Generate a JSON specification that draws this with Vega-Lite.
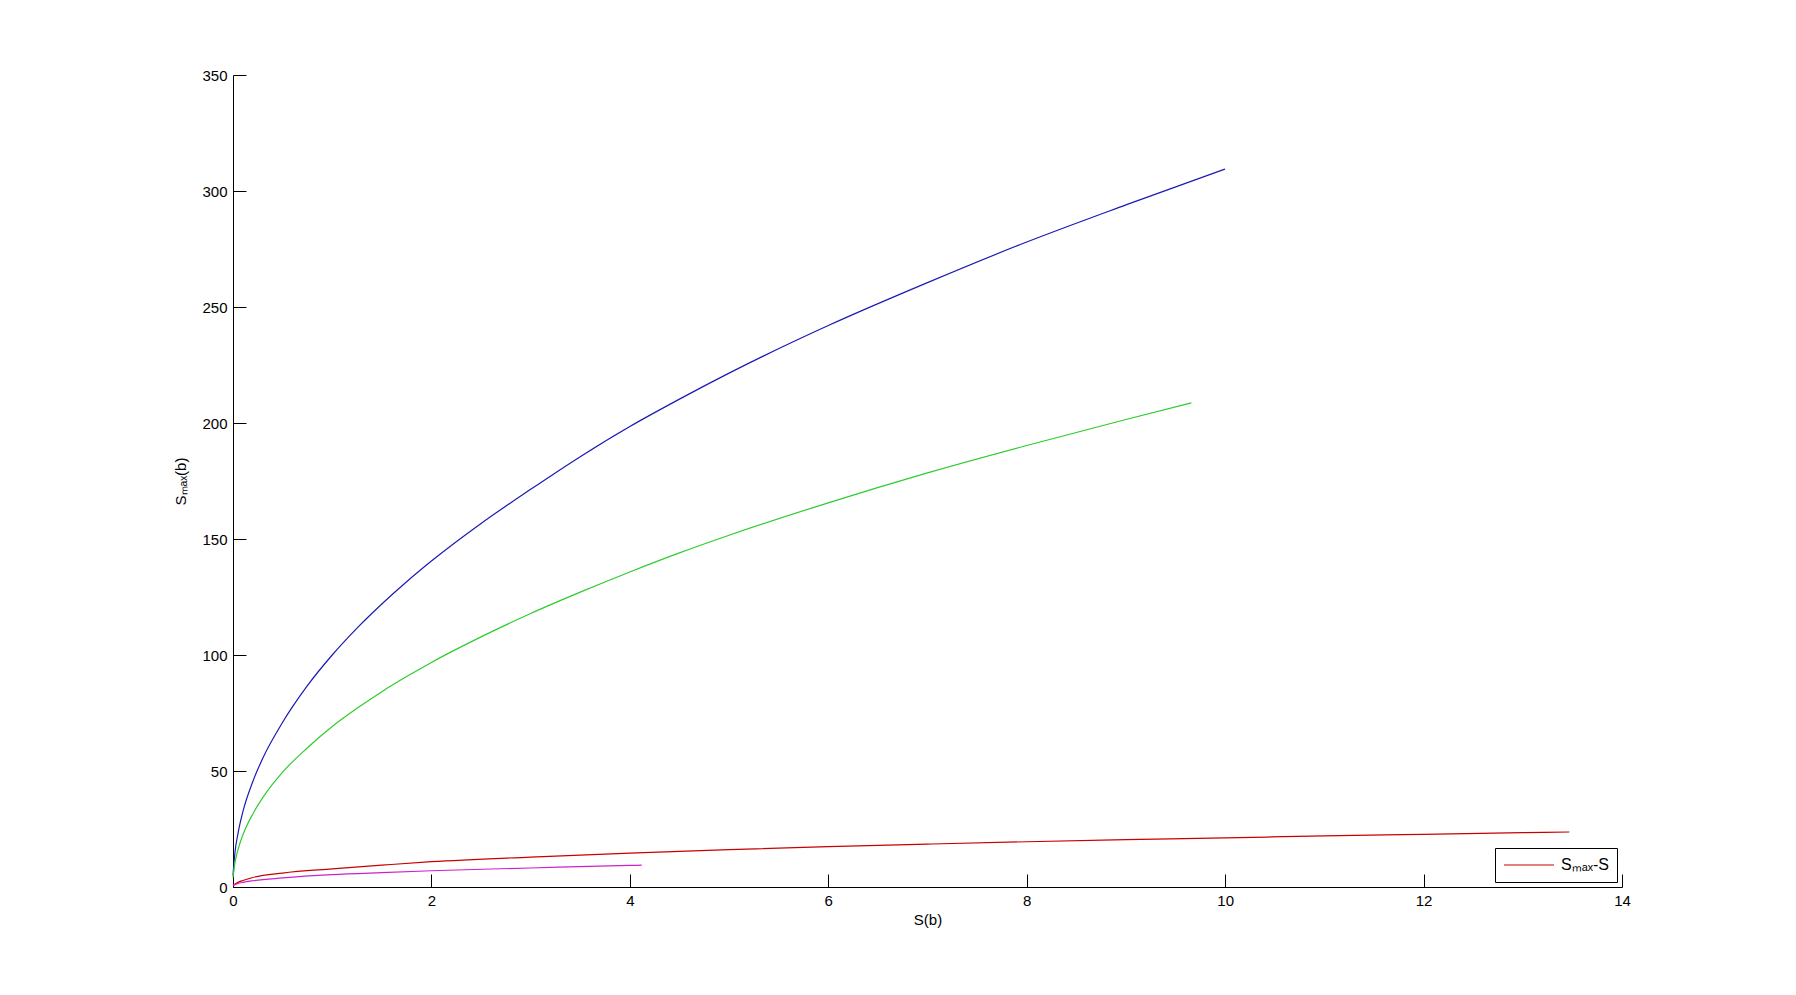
{
  "$schema": "https://vega.github.io/schema/vega-lite/v6.json",
  "autosize": "none",
  "width": 1389,
  "height": 812,
  "padding": {"left": 233, "top": 75, "right": 174, "bottom": 108},
  "background": "white",
  "config": {
    "view": {"stroke": null},
    "font": "Liberation Sans",
    "axis": {
      "grid": false,
      "domainColor": "black",
      "domainWidth": 1,
      "tickColor": "black",
      "tickWidth": 1,
      "tickSize": -13,
      "labelFont": "Liberation Sans",
      "labelFontSize": 15,
      "labelColor": "black",
      "titleFont": "Liberation Sans",
      "titleFontSize": 15,
      "titleFontWeight": "normal",
      "titleColor": "black"
    }
  },
  "data": {
    "values": [
      {"S": 0, "Smax": 5, "series": "curve 1"},
      {"S": 0.02, "Smax": 15, "series": "curve 1"},
      {"S": 0.05, "Smax": 23, "series": "curve 1"},
      {"S": 0.1, "Smax": 32.5, "series": "curve 1"},
      {"S": 0.2, "Smax": 45.5, "series": "curve 1"},
      {"S": 0.3, "Smax": 55.5, "series": "curve 1"},
      {"S": 0.5, "Smax": 71, "series": "curve 1"},
      {"S": 0.75, "Smax": 86.8, "series": "curve 1"},
      {"S": 1, "Smax": 100, "series": "curve 1"},
      {"S": 1.25, "Smax": 111.6, "series": "curve 1"},
      {"S": 1.5, "Smax": 122, "series": "curve 1"},
      {"S": 1.75, "Smax": 131.6, "series": "curve 1"},
      {"S": 2, "Smax": 140.5, "series": "curve 1"},
      {"S": 2.5, "Smax": 156.7, "series": "curve 1"},
      {"S": 3, "Smax": 171.4, "series": "curve 1"},
      {"S": 3.5, "Smax": 185.5, "series": "curve 1"},
      {"S": 4, "Smax": 198.5, "series": "curve 1"},
      {"S": 4.5, "Smax": 210.3, "series": "curve 1"},
      {"S": 5, "Smax": 221.5, "series": "curve 1"},
      {"S": 6, "Smax": 242, "series": "curve 1"},
      {"S": 7, "Smax": 260.5, "series": "curve 1"},
      {"S": 8, "Smax": 278, "series": "curve 1"},
      {"S": 9, "Smax": 294, "series": "curve 1"},
      {"S": 10, "Smax": 309.5, "series": "curve 1"},
      {"S": 0, "Smax": 4, "series": "curve 2"},
      {"S": 0.02, "Smax": 10.5, "series": "curve 2"},
      {"S": 0.05, "Smax": 16, "series": "curve 2"},
      {"S": 0.1, "Smax": 22.5, "series": "curve 2"},
      {"S": 0.2, "Smax": 31.5, "series": "curve 2"},
      {"S": 0.3, "Smax": 38.5, "series": "curve 2"},
      {"S": 0.5, "Smax": 49.5, "series": "curve 2"},
      {"S": 0.75, "Smax": 60, "series": "curve 2"},
      {"S": 1, "Smax": 69.2, "series": "curve 2"},
      {"S": 1.25, "Smax": 77, "series": "curve 2"},
      {"S": 1.5, "Smax": 84.2, "series": "curve 2"},
      {"S": 1.75, "Smax": 90.7, "series": "curve 2"},
      {"S": 2, "Smax": 96.8, "series": "curve 2"},
      {"S": 2.5, "Smax": 107.8, "series": "curve 2"},
      {"S": 3, "Smax": 117.9, "series": "curve 2"},
      {"S": 3.5, "Smax": 127.1, "series": "curve 2"},
      {"S": 4, "Smax": 135.8, "series": "curve 2"},
      {"S": 4.5, "Smax": 144, "series": "curve 2"},
      {"S": 5, "Smax": 151.6, "series": "curve 2"},
      {"S": 6, "Smax": 165.6, "series": "curve 2"},
      {"S": 7, "Smax": 178.5, "series": "curve 2"},
      {"S": 8, "Smax": 190.3, "series": "curve 2"},
      {"S": 9, "Smax": 201.5, "series": "curve 2"},
      {"S": 9.66, "Smax": 208.7, "series": "curve 2"},
      {"S": 0, "Smax": 0.7, "series": "Sₘₐₓ-S"},
      {"S": 0.05, "Smax": 2, "series": "Sₘₐₓ-S"},
      {"S": 0.1, "Smax": 2.8, "series": "Sₘₐₓ-S"},
      {"S": 0.2, "Smax": 4.1, "series": "Sₘₐₓ-S"},
      {"S": 0.5, "Smax": 6, "series": "Sₘₐₓ-S"},
      {"S": 1, "Smax": 7.8, "series": "Sₘₐₓ-S"},
      {"S": 1.5, "Smax": 9.4, "series": "Sₘₐₓ-S"},
      {"S": 2, "Smax": 10.9, "series": "Sₘₐₓ-S"},
      {"S": 3, "Smax": 12.9, "series": "Sₘₐₓ-S"},
      {"S": 4, "Smax": 14.6, "series": "Sₘₐₓ-S"},
      {"S": 5, "Smax": 16.1, "series": "Sₘₐₓ-S"},
      {"S": 6, "Smax": 17.4, "series": "Sₘₐₓ-S"},
      {"S": 7, "Smax": 18.5, "series": "Sₘₐₓ-S"},
      {"S": 8, "Smax": 19.5, "series": "Sₘₐₓ-S"},
      {"S": 9, "Smax": 20.4, "series": "Sₘₐₓ-S"},
      {"S": 10, "Smax": 21.2, "series": "Sₘₐₓ-S"},
      {"S": 11, "Smax": 22, "series": "Sₘₐₓ-S"},
      {"S": 12, "Smax": 22.7, "series": "Sₘₐₓ-S"},
      {"S": 13, "Smax": 23.4, "series": "Sₘₐₓ-S"},
      {"S": 13.47, "Smax": 23.7, "series": "Sₘₐₓ-S"},
      {"S": 0, "Smax": 0.7, "series": "curve 4"},
      {"S": 0.05, "Smax": 1.5, "series": "curve 4"},
      {"S": 0.1, "Smax": 2, "series": "curve 4"},
      {"S": 0.2, "Smax": 2.7, "series": "curve 4"},
      {"S": 0.5, "Smax": 3.9, "series": "curve 4"},
      {"S": 1, "Smax": 5.3, "series": "curve 4"},
      {"S": 1.5, "Smax": 6.2, "series": "curve 4"},
      {"S": 2, "Smax": 7, "series": "curve 4"},
      {"S": 3, "Smax": 8.2, "series": "curve 4"},
      {"S": 4, "Smax": 9.3, "series": "curve 4"},
      {"S": 4.12, "Smax": 9.4, "series": "curve 4"}
    ]
  },
  "mark": {"type": "line", "strokeWidth": 1.2, "interpolate": "monotone"},
  "encoding": {
    "x": {
      "field": "S",
      "type": "quantitative",
      "scale": {"domain": [0, 14], "nice": false, "zero": false},
      "axis": {
        "title": "S(b)",
        "values": [0, 2, 4, 6, 8, 10, 12, 14],
        "labelPadding": 19,
        "titlePadding": 4,
        "labelFlush": false
      }
    },
    "y": {
      "field": "Smax",
      "type": "quantitative",
      "scale": {"domain": [0, 350], "nice": false},
      "axis": {
        "title": "Sₘₐₓ(b)",
        "values": [0, 50, 100, 150, 200, 250, 300, 350],
        "labelPadding": 19,
        "titlePadding": 13,
        "labelFlush": false
      }
    },
    "color": {
      "field": "series",
      "type": "nominal",
      "scale": {
        "domain": ["curve 1", "curve 2", "Sₘₐₓ-S", "curve 4"],
        "range": ["#1a1ab4", "#2ecc2e", "#c80000", "#cc22cc"]
      },
      "legend": {
        "values": ["Sₘₐₓ-S"],
        "title": null,
        "orient": "bottom-right",
        "offset": 5,
        "symbolType": "stroke",
        "symbolSize": 2500,
        "symbolStrokeWidth": 1.2,
        "clipHeight": 18,
        "labelFont": "Liberation Sans",
        "labelFontSize": 16,
        "labelColor": "black",
        "labelOffset": 6,
        "strokeColor": "black",
        "fillColor": "white",
        "padding": 8
      }
    }
  }
}
